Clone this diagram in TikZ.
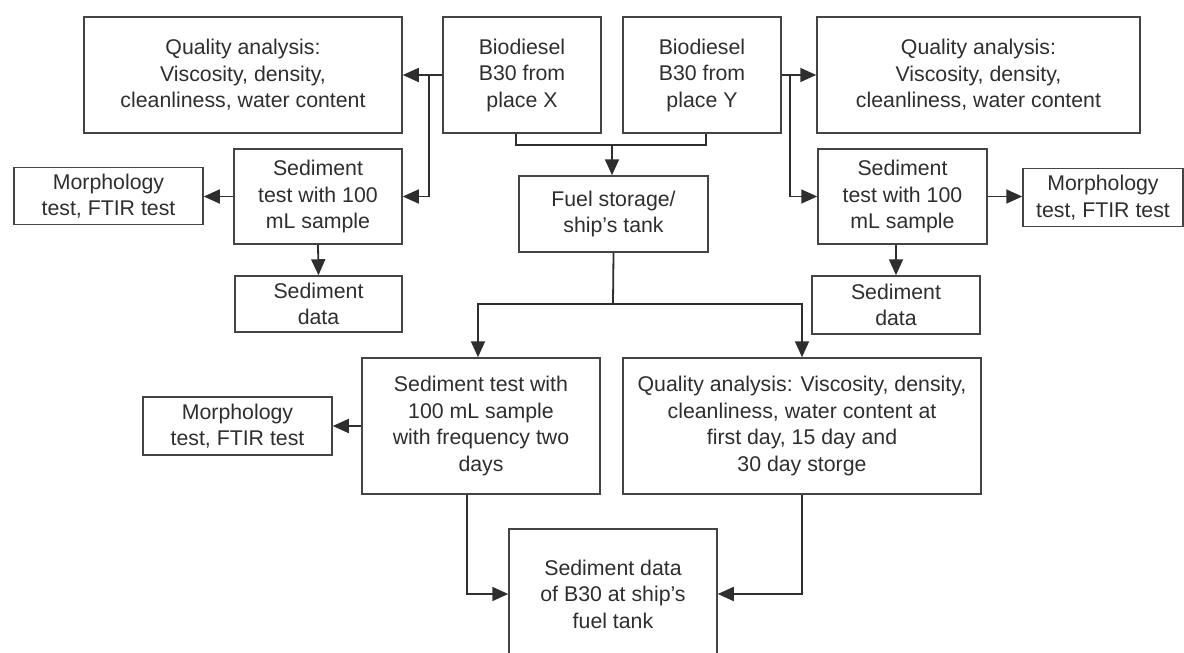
\documentclass[tikz,border=0pt]{standalone}
\usepackage{fontspec}
\setmainfont{Liberation Sans}
\usetikzlibrary{arrows.meta}

\definecolor{ink}{HTML}{2E2E30}
\definecolor{frame}{HTML}{444446}

\tikzset{
    box/.style={draw=frame, line width=1.5pt, text=ink, align=center, inner sep=0pt},
    wire/.style={draw=ink, line width=1.8pt},
    link/.style={wire, -{Triangle[length=16pt,width=14pt]}}
}

\begin{document}
\begin{tikzpicture}[x=1pt, y=-1pt, font=\fontsize{21.3}{26.5}\selectfont]
    \useasboundingbox (0,0) rectangle (1184,653);

    % top row: the two fuels and their quality checks
    \node [box, minimum width=318, minimum height=116] (qaX) at (243,75)
        {Quality analysis:\\Viscosity, density,\\cleanliness, water content};
    \node [box, minimum width=158, minimum height=116] (bioX) at (522,75)
        {Biodiesel\\B30 from\\place X};
    \node [box, minimum width=158, minimum height=116] (bioY) at (702,75)
        {Biodiesel\\B30 from\\place Y};
    \node [box, minimum width=323, minimum height=116] (qaY) at (978.5,75)
        {Quality analysis:\\Viscosity, density,\\cleanliness, water content};

    % sediment tests on each side
    \node [box, minimum width=168, minimum height=95] (sedX) at (318,196.5)
        {Sediment\\test with 100\\mL sample};
    \node [box, minimum width=189, minimum height=57] (morphX) at (108.5,196)
        {Morphology\\test, FTIR test};
    \node [box, minimum width=167, minimum height=56] (dataX) at (318.5,304)
        {Sediment\\data};
    \node [box, minimum width=169, minimum height=95] (sedY) at (902.5,196.5)
        {Sediment\\test with 100\\mL sample};
    \node [box, minimum width=160, minimum height=58] (morphY) at (1103,197.5)
        {Morphology\\test, FTIR test};
    \node [box, minimum width=168, minimum height=58] (dataY) at (896,305)
        {Sediment\\data};

    \node [box, minimum width=189, minimum height=76] (fuel) at (613.5,214)
        {Fuel storage/\\ship’s tank};

    % storage tests
    \node [box, minimum width=238, minimum height=136] (sedFreq) at (481,426)
        {Sediment test with\\100 mL sample\\with frequency two\\days};
    \node [box, minimum width=189, minimum height=58] (morphB) at (237.5,426)
        {Morphology\\test, FTIR test};
    \node [box, minimum width=358, minimum height=136] (qaStore) at (802,426)
        {Quality analysis: Viscosity, density,\\cleanliness, water content at\\first day, 15 day and\\30 day storge};
    \node [box, minimum width=208, minimum height=130] (result) at (613,594)
        {Sediment data\\of B30 at ship’s\\fuel tank};

    \coordinate (jX) at (429,75);
    \coordinate (jY) at (790,75);
    \coordinate (busTop) at (612,144);
    \coordinate (split) at (613,304);

    % branches out of each fuel
    \draw [link] (bioX.west) -- (qaX.east);
    \draw [link] (jX) |- (sedX.east);
    \draw [link] (bioY.east) -- (qaY.west);
    \draw [link] (jY) |- (sedY.west);
    \draw [link] (sedX.west) -- (sedX.west -| morphX.east);
    \draw [link] (sedX.south) -- (dataX.north);
    \draw [link] (sedY.east) -- (sedY.east -| morphY.west);
    \draw [link] (sedY.south -| dataY.north) -- (dataY.north);

    % both fuels into the tank
    \draw [wire] ([xshift=-6pt]bioX.south) -- ++(0,11) -| ([xshift=4pt]bioY.south);
    \draw [link] (busTop) -- (busTop |- fuel.north);

    % tank split and final result
    \draw [wire] (fuel.south) -- (split);
    \draw [link] (split) -| ([xshift=-3pt]sedFreq.north);
    \draw [link] (split) -| (qaStore.north);
    \draw [link] (sedFreq.west) -- (morphB.east);
    \draw [link] ([xshift=-14pt]sedFreq.south) |- (result.west);
    \draw [link] (qaStore.south) |- (result.east);
\end{tikzpicture}
\end{document}
